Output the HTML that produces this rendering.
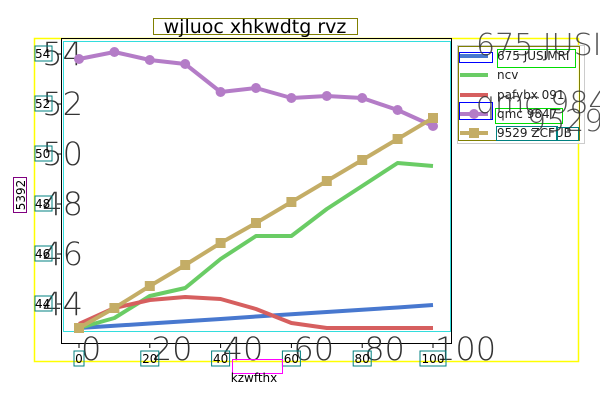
<!DOCTYPE html>
<html><head><meta charset="utf-8"><style>
html,body{margin:0;padding:0;background:#fff;width:600px;height:400px;overflow:hidden}
text{font-family:"DejaVu Sans","Liberation Sans",sans-serif}
</style></head><body>
<svg id="chart" width="600" height="400" viewBox="0 0 600 400" xmlns="http://www.w3.org/2000/svg">
<g id="bg"></g>
<g id="plot"></g>
<g id="fg"></g>
</svg>
<script>
const xValues=[0,10,20,30,40,50,60,70,80,90,100];
const xTicks=[0,20,40,60,80,100];
const yTicks=[44,46,48,50,52,54];
const seriesNames=["675 JUSIMRI","ncv","pafybx 091","qmc 9847","9529 ZCFUB"];
const blueVals=[43.04,43.13,43.22,43.31,43.4,43.5,43.59,43.68,43.77,43.86,43.96];
const greenVals=[43.04,43.44,44.32,44.64,45.8,46.72,46.72,47.8,48.72,49.64,49.52];
const redVals=[43.2,43.84,44.16,44.28,44.2,43.8,43.24,43.04,43.04,43.04,43.04];
const purpleVals=[53.8,54.08,53.76,53.6,52.48,52.64,52.24,52.32,52.24,51.76,51.12];
const tanVals=[43.04,43.84,44.72,45.56,46.44,47.24,48.08,48.92,49.76,50.6,51.44];

const NS="http://www.w3.org/2000/svg";
const xs=v=>79+v*3.54;
const ys=v=>54+(54-v)*25;
function mk(parent,tag,attrs,txt){const e=document.createElementNS(NS,tag);for(const k in attrs)e.setAttribute(k,attrs[k]);if(txt!==undefined)e.textContent=txt;document.getElementById(parent).appendChild(e);return e;}

let e;
e=mk('bg','rect',{x:34.5,y:38.5,width:544,height:323,fill:'none',stroke:'#ffff00','stroke-width':1.5});


e=mk('bg','rect',{x:61.5,y:38.5,width:390,height:305,fill:'none',stroke:'#000','stroke-width':1});


e=mk('bg','rect',{x:63.5,y:41.5,width:387,height:290,fill:'none',stroke:'#33dddd','stroke-width':1});



yTicks.forEach(t=>{
  e=mk('bg','text',{x:83,y:ys(t)+2,'font-size':32,fill:'#333','text-anchor':'end','font-weight':'300','dominant-baseline':'middle'},String(t));
  
  
  e=mk('bg','line',{x1:57,x2:61,y1:ys(t),y2:ys(t),stroke:'#000'});
  
  
  e=mk('fg','rect',{x:35,y:ys(t)-8,width:17,height:15,fill:'none',stroke:'#008080'});
  
  
  e=mk('fg','text',{x:35,y:ys(t)+4,'font-size':12,fill:'#000'},String(t));
  
  
});
xTicks.forEach(t=>{
  e=mk('bg','text',{x:xs(t)+2,y:360,'font-size':32,fill:'#333','font-weight':'300'},String(t));
  
  
  e=mk('bg','line',{x1:xs(t),x2:xs(t),y1:344,y2:348,stroke:'#000'});
  
  
  const w=String(t).length*8+2;
  e=mk('fg','rect',{x:xs(t)-w/2,y:351,width:w,height:15,fill:'none',stroke:'#008080'});
  
  
  e=mk('fg','text',{x:xs(t),y:363,'font-size':12,fill:'#000','text-anchor':'middle'},String(t));
  
  
});

const series=[
 {vals:blueVals,color:'#4878cf',marker:null,name:'series-675-jusimri'},
 {vals:greenVals,color:'#6acc65',marker:null,name:'series-ncv'},
 {vals:redVals,color:'#d65f5f',marker:null,name:'series-pafybx-091'},
 {vals:purpleVals,color:'#b47cc7',marker:'circle',name:'series-qmc-9847'},
 {vals:tanVals,color:'#c4ad66',marker:'square',name:'series-9529-zcfub'}
];
series.forEach(s=>{
  const pts=s.vals.map((v,i)=>xs(xValues[i])+','+ys(v)).join(' ');
  e=mk('plot','polyline',{points:pts,fill:'none',stroke:s.color,'stroke-width':4,'stroke-linejoin':'round'});
  
  
  s.vals.forEach((v,i)=>{
    if(s.marker==='circle'){
      e=mk('plot','circle',{cx:xs(xValues[i]),cy:ys(v),r:5,fill:s.color});
      
      
    } else if(s.marker==='square'){
      e=mk('plot','rect',{x:xs(xValues[i])-5,y:ys(v)-5,width:10,height:10,fill:s.color});
      
      
    }
  });
});

e=mk('fg','rect',{x:457.5,y:45.5,width:127,height:98,fill:'rgba(255,255,255,0.8)',stroke:'#cccccc'});


e=mk('fg','rect',{x:458.5,y:46.5,width:121,height:94,fill:'none',stroke:'#808000'});


const ly=[56,75,95,114,133];
series.forEach((s,i)=>{
  e=mk('fg','line',{x1:460,x2:488,y1:ly[i],y2:ly[i],stroke:s.color,'stroke-width':4});
  
  
  if(s.marker==='circle'){e=mk('fg','circle',{cx:474,cy:ly[i],r:5,fill:s.color});}
  if(s.marker==='square'){e=mk('fg','rect',{x:469,y:ly[i]-5,width:10,height:10,fill:s.color});}
  e=mk('fg','text',{x:497,y:ly[i]+4,'font-size':12,fill:'#222'},seriesNames[i]);
  
  
});
[[459,52,33,10,'#0000ff'],[497,49,78,18,'#00dd00'],[459,102,33,17,'#0000ff'],[495,108,67,15,'#00dd00'],[496,126,61,14,'#008080'],[556,127,22,13,'#008080']].forEach(b=>{
  e=mk('fg','rect',{x:b[0]+0.5,y:b[1]+0.5,width:b[2],height:b[3],fill:'none',stroke:b[4]});
  
  
});
[[476,55,'675 JUSIMRI'],[476,113,'qmc 9847'],[527,131,'9529 ZCFUB']].forEach(g=>{
  e=mk('fg','text',{x:g[0],y:g[1],'font-size':30,fill:'#333','font-weight':'300','fill-opacity':0.85},g[2]);
  
  
});

e=mk('fg','rect',{x:153.5,y:18.5,width:204,height:16,fill:'none',stroke:'#808000'});


e=mk('fg','text',{x:255,y:33,'font-size':19,fill:'#000','text-anchor':'middle'},'wjluoc xhkwdtg rvz');


e=mk('fg','rect',{x:232.5,y:359.5,width:50,height:14,fill:'none',stroke:'#ff00ff'});


e=mk('fg','text',{x:254,y:382,'font-size':12,fill:'#000','text-anchor':'middle'},'kzwfthx');


e=mk('fg','rect',{x:13.5,y:177.5,width:13,height:35,fill:'none',stroke:'#800080'});


e=mk('fg','text',{x:25,y:195,'font-size':12,fill:'#000','text-anchor':'middle',transform:'rotate(-90 25 195)'},'5392');


</script>
</body></html>
